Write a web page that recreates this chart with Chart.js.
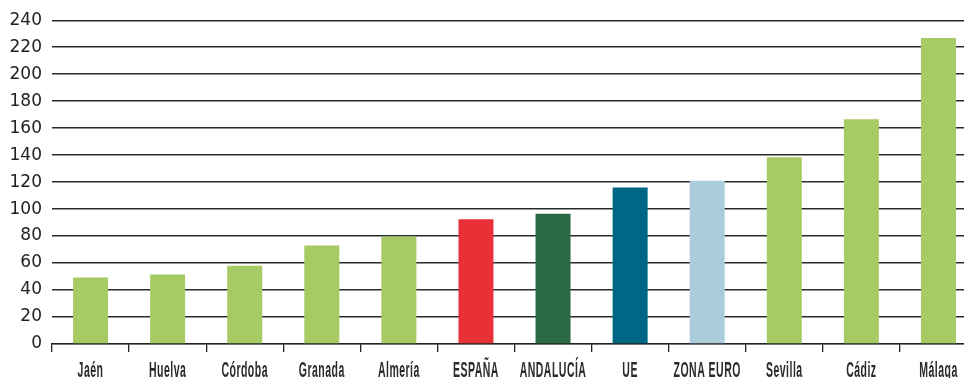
<!DOCTYPE html>
<html><head><meta charset="utf-8">
<script src="https://cdn.jsdelivr.net/npm/chart.js@4/dist/chart.umd.min.js"></script>
<style>
html,body{margin:0;padding:0;background:#fff;overflow:hidden;width:964px;height:378px;}
#wrap{position:absolute;left:0;top:0;width:977px;height:378px;}
</style></head><body>
<div id="wrap"><canvas id="c"></canvas></div>
<script>
const categories = ["Jaén","Huelva","Córdoba","Granada","Almería","ESPAÑA","ANDALUCÍA","UE","ZONA EURO","Sevilla","Cádiz","Málaga"];
const values = [49.3, 51.5, 58, 73, 79.5, 92.5, 96.5, 116, 121, 138.5, 166.5, 226.8];
const barColors = ["#A6CA64","#A6CA64","#A6CA64","#A6CA64","#A6CA64","#E73137","#2A6944","#006685","#AACCDB","#A6CA64","#A6CA64","#A6CA64"];
const yTicks = [0,20,40,60,80,100,120,140,160,180,200,220,240];

const LABEL_FONT = '600 22px "Liberation Sans", Arial, sans-serif';
const condensedLabels = {
  id: 'condensedLabels',
  afterDraw(chart) {
    const ctx = chart.ctx, xs = chart.scales.x;
    ctx.save();
    ctx.font = LABEL_FONT;
    if ('letterSpacing' in ctx) ctx.letterSpacing = '1px';
    const refW = { 'Huelva': 38, 'Córdoba': 47, 'ANDALUCÍA': 66, 'ZONA EURO': 67 };
    let tw = 0, mw = 0;
    for (const k in refW) { tw += refW[k]; mw += ctx.measureText(k).width; }
    const sx = tw / mw;
    ctx.fillStyle = '#2b2b2b';
    ctx.textAlign = 'center';
    ctx.textBaseline = 'alphabetic';
    categories.forEach((lab, i) => {
      const x = xs.getPixelForValue(i);
      ctx.save();
      ctx.translate(x, 377);
      ctx.scale(sx, 1);
      ctx.fillText(lab, 0, 0);
      ctx.restore();
    });
    ctx.restore();
  }
};

new Chart(document.getElementById('c'), {
  type: 'bar',
  data: { labels: categories, datasets: [{ data: values, backgroundColor: barColors, borderWidth: 0, categoryPercentage: 1, barPercentage: 0.454 }] },
  options: {
    responsive: true, maintainAspectRatio: false, animation: false,
    layout: { padding: { top: 16, left: 0, right: 0, bottom: 0 } },
    plugins: { legend: { display: false }, tooltip: { enabled: false } },
    scales: {
      x: {
        afterFit: s => { s.height = 34; },
        grid: { drawOnChartArea: false, color: '#222', lineWidth: 1.3, tickLength: 8, offset: true },
        border: { display: true, color: '#222', width: 1.3 },
        ticks: { color: 'rgba(0,0,0,0)', font: { size: 12 }, padding: 4, maxRotation: 0, autoSkip: false }
      },
      y: {
        min: 0, max: 240,
        afterBuildTicks: s => { s.ticks = yTicks.map(v => ({ value: v })); },
        afterFit: s => { s.width = 52; },
        grid: { color: '#2a2a2a', lineWidth: 1.4, drawTicks: false },
        border: { display: false },
        ticks: { color: '#222', font: { family: '"DejaVu Sans",sans-serif', size: 17 }, padding: 10 }
      }
    }
  },
  plugins: [condensedLabels]
});
</script></body></html>
